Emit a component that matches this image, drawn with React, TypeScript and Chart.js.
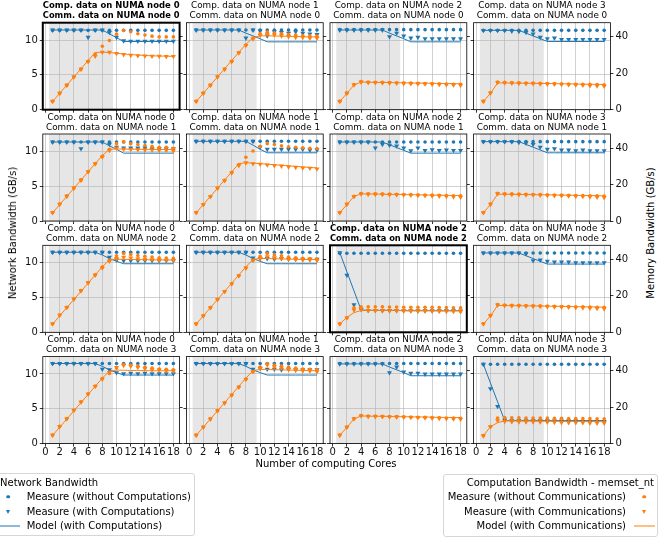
import React, { useEffect, useRef } from "react";
import { Chart, registerables } from "chart.js";
Chart.register(...registerables);

const FONT = "'DejaVu Sans', 'Liberation Sans', sans-serif";
const BLUE = "#1f77b4";
const ORANGE = "#ff7f0e";

// ---------- data ----------
const CORES = [1, 2, 3, 4, 5, 6, 7, 8, 9, 10, 11, 12, 13, 14, 15, 16, 17, 18];
const X_TICKS = [0, 2, 4, 6, 8, 10, 12, 14, 16, 18];
const NET_TICKS = [0, 5, 10];
const MEM_TICKS = [0, 20, 40];
const X_RANGE = [-0.375, 18.875];
const NET_RANGE = [0, 12.5];
const MEM_RANGE = [0, 47.8];
const SOCKET_SPAN = [0.5, 9.5];
const COMP_NODES = [0, 1, 2, 3];
const COMM_NODES = [0, 1, 2, 3];
const HIGHLIGHTED = ["0-0", "2-2"]; // comm-comp

// panel: comm node 0 / comp node 0
const net_no_r0c0 = [11.4, 11.4, 11.4, 11.4, 11.4, 11.4, 11.4, 11.4, 11.4, 11.4, 11.4, 11.4, 11.4, 11.4, 11.4, 11.4, 11.4, 11.4];
const net_with_r0c0 = [11.45, 11.45, 11.45, 11.45, 11.45, 10.4, 11.45, 11.45, 11.1, 10.4, 9.9, 9.85, 9.85, 9.85, 9.85, 9.85, 9.85, 9.85];
const net_model_r0c0 = [11.45, 11.45, 11.45, 11.45, 11.45, 11.45, 11.45, 11.45, 10.9, 10.35, 9.8, 9.8, 9.8, 9.8, 9.8, 9.8, 9.8, 9.8];
const mem_no_r0c0 = [4.7, 9.1, 13.5, 18.1, 22.4, 26.6, 30.6, 34.9, 38.0, 41.5, 43.5, 42.8, 41.7, 41.0, 40.4, 40.0, 40.0, 40.0];
const mem_with_r0c0 = [4.6, 9.0, 13.4, 18.0, 22.2, 26.4, 29.4, 31.6, 31.6, 30.9, 30.3, 29.9, 29.7, 29.6, 29.4, 29.4, 29.2, 29.3];
const mem_model_r0c0 = [4.5, 9.0, 13.5, 18.0, 22.5, 27.0, 31.4, 31.6, 31.4, 31.0, 30.6, 30.3, 30.0, 29.8, 29.6, 29.5, 29.4, 29.3];

// comm 0 / comp 1
const net_no_r0c1 = [11.45, 11.45, 11.45, 11.45, 11.45, 11.45, 11.45, 11.45, 11.45, 11.45, 11.45, 11.45, 11.45, 11.45, 11.45, 11.45, 11.45, 11.45];
const net_with_r0c1 = [11.45, 11.45, 11.45, 11.45, 11.45, 11.45, 11.45, 10.3, 11.45, 11.3, 10.6, 11.2, 11.1, 11.0, 11.2, 11.0, 10.9, 10.8];
const net_model_r0c1 = [11.45, 11.45, 11.45, 11.45, 11.45, 11.45, 11.45, 11.0, 10.6, 10.2, 9.75, 9.75, 9.75, 9.75, 9.75, 9.75, 9.75, 9.75];
const mem_no_r0c1 = [4.7, 9.1, 13.5, 18.1, 22.4, 26.6, 31.4, 35.5, 39.4, 41.8, 42.6, 42.3, 41.8, 41.4, 41.0, 40.8, 40.6, 40.4];
const mem_with_r0c1 = [4.6, 9.0, 13.4, 18.0, 22.2, 26.4, 31.2, 35.3, 38.9, 40.8, 41.5, 41.1, 40.6, 40.2, 39.8, 39.7, 39.3, 39.3];
const mem_model_r0c1 = [4.5, 9.0, 13.5, 18.0, 22.5, 27.0, 31.5, 36.0, 39.5, 40.6, 40.6, 40.5, 40.4, 40.3, 40.2, 40.1, 40.0, 40.0];

// comm 0 / comp 2
const net_no_r0c2 = [11.5, 11.5, 11.5, 11.5, 11.5, 11.5, 11.5, 11.5, 11.5, 11.5, 11.5, 11.5, 11.5, 11.5, 11.5, 11.5, 11.5, 11.5];
const net_with_r0c2 = [11.45, 11.45, 11.45, 11.45, 11.45, 11.45, 11.45, 10.5, 11.0, 10.6, 10.3, 10.4, 10.2, 10.2, 10.2, 10.2, 10.2, 10.2];
const net_model_r0c2 = [11.45, 11.45, 11.45, 11.45, 11.45, 11.45, 11.45, 11.0, 10.6, 10.2, 9.75, 9.75, 9.75, 9.75, 9.75, 9.75, 9.75, 9.75];
const mem_no_r0c2 = [4.7, 9.1, 13.8, 15.4, 15.2, 15.1, 15.0, 14.9, 14.8, 14.7, 14.6, 14.5, 14.4, 14.3, 14.2, 14.1, 14.0, 13.9];
const mem_with_r0c2 = [4.6, 9.0, 13.6, 15.2, 14.9, 14.9, 14.8, 14.7, 14.6, 14.5, 14.4, 14.3, 14.2, 14.0, 13.9, 13.8, 13.6, 13.4];
const mem_model_r0c2 = [4.5, 9.0, 13.5, 15.2, 15.1, 15.0, 15.0, 14.9, 14.8, 14.8, 14.7, 14.6, 14.6, 14.5, 14.4, 14.4, 14.3, 14.3];

// comm 0 / comp 3
const net_no_r0c3 = [11.4, 11.4, 11.4, 11.4, 11.4, 11.4, 11.4, 11.4, 11.4, 11.4, 11.4, 11.4, 11.4, 11.4, 11.4, 11.4, 11.4, 11.4];
const net_with_r0c3 = [11.4, 11.4, 11.4, 11.4, 11.3, 11.25, 11.1, 10.9, 10.4, 10.2, 10.3, 10.1, 10.1, 10.1, 10.1, 10.1, 10.1, 10.1];
const net_model_r0c3 = [11.4, 11.4, 11.4, 11.4, 11.4, 11.4, 11.0, 10.6, 10.2, 9.8, 9.8, 9.8, 9.8, 9.8, 9.8, 9.8, 9.8, 9.8];
const mem_no_r0c3 = [4.7, 9.3, 15.2, 15.0, 14.9, 14.8, 14.7, 14.6, 14.5, 14.4, 14.3, 14.2, 14.1, 14.0, 14.0, 13.9, 13.8, 13.7];
const mem_with_r0c3 = [4.6, 9.2, 15.0, 14.7, 14.6, 14.5, 14.4, 14.3, 14.2, 14.1, 14.0, 13.9, 13.8, 13.6, 13.5, 13.3, 13.1, 12.9];
const mem_model_r0c3 = [4.5, 9.0, 14.7, 14.7, 14.6, 14.6, 14.5, 14.5, 14.4, 14.4, 14.3, 14.2, 14.2, 14.1, 14.0, 14.0, 13.9, 13.8];

// comm 1 / comp 0
const net_no_r1c0 = [11.35, 11.35, 11.35, 11.35, 11.35, 11.35, 11.35, 11.35, 11.35, 11.35, 11.35, 11.35, 11.35, 11.35, 11.35, 11.35, 11.35, 11.35];
const net_with_r1c0 = [11.35, 11.35, 11.35, 11.35, 10.4, 11.35, 11.35, 11.35, 11.05, 10.6, 10.5, 10.5, 10.5, 10.5, 10.4, 10.4, 10.4, 10.4];
const net_model_r1c0 = [11.35, 11.35, 11.35, 11.35, 11.35, 11.35, 11.35, 11.35, 10.8, 10.3, 9.75, 9.75, 9.75, 9.75, 9.75, 9.75, 9.75, 9.75];
const mem_no_r1c0 = [4.7, 9.3, 13.8, 18.2, 22.6, 27.2, 31.6, 35.6, 39.4, 42.5, 43.5, 42.5, 42.0, 41.5, 41.0, 40.5, 40.5, 40.0];
const mem_with_r1c0 = [4.6, 9.2, 13.6, 18.0, 22.4, 27.0, 31.4, 35.2, 38.8, 40.0, 39.5, 39.3, 39.2, 39.0, 39.0, 38.8, 38.8, 38.5];
const mem_model_r1c0 = [4.5, 9.0, 13.5, 18.0, 22.5, 27.0, 31.5, 36.0, 39.4, 39.6, 39.5, 39.5, 39.4, 39.4, 39.3, 39.3, 39.3, 39.3];

// comm 1 / comp 1
const net_no_r1c1 = [11.45, 11.45, 11.45, 11.45, 11.45, 11.45, 11.45, 11.45, 11.45, 11.45, 11.45, 11.45, 11.45, 11.45, 11.45, 11.45, 11.45, 11.45];
const net_with_r1c1 = [11.45, 11.45, 11.45, 11.45, 11.45, 11.45, 11.45, 11.45, 11.45, 10.6, 10.3, 10.3, 10.3, 10.3, 10.3, 10.3, 10.2, 10.2];
const net_model_r1c1 = [11.45, 11.45, 11.45, 11.45, 11.45, 11.45, 11.45, 11.45, 10.9, 10.3, 9.8, 9.8, 9.8, 9.8, 9.8, 9.8, 9.8, 9.8];
const mem_no_r1c1 = [4.7, 9.1, 13.5, 18.1, 22.4, 26.6, 31.0, 35.0, 38.5, 41.0, 42.5, 42.0, 41.3, 40.8, 40.5, 40.2, 40.0, 39.8];
const mem_with_r1c1 = [4.6, 9.0, 13.4, 18.0, 22.2, 26.4, 30.5, 32.0, 31.5, 31.2, 30.8, 30.5, 30.2, 29.8, 29.5, 29.2, 29.0, 28.6];
const mem_model_r1c1 = [4.5, 9.0, 13.5, 18.0, 22.5, 27.0, 31.5, 32.0, 31.8, 31.5, 31.2, 30.9, 30.6, 30.3, 30.0, 29.7, 29.4, 29.2];

// comm 1 / comp 2
const net_no_r1c2 = [11.35, 11.35, 11.35, 11.35, 11.35, 11.35, 11.35, 11.35, 11.35, 11.35, 11.35, 11.35, 11.35, 11.35, 11.35, 11.35, 11.35, 11.35];
const net_with_r1c2 = [11.35, 11.35, 11.35, 11.35, 11.35, 10.5, 11.0, 10.9, 10.8, 10.5, 10.1, 10.5, 10.15, 10.25, 10.15, 10.2, 10.15, 10.15];
const net_model_r1c2 = [11.35, 11.35, 11.35, 11.35, 11.35, 11.35, 11.35, 10.95, 10.55, 10.15, 9.75, 9.75, 9.75, 9.75, 9.75, 9.75, 9.75, 9.75];
const mem_no_r1c2 = [4.7, 9.3, 13.6, 15.1, 15.0, 14.9, 14.9, 14.8, 14.7, 14.6, 14.5, 14.4, 14.3, 14.2, 14.1, 14.0, 13.9, 13.8];
const mem_with_r1c2 = [4.6, 9.2, 13.4, 14.9, 14.7, 14.7, 14.6, 14.5, 14.4, 14.3, 14.2, 14.1, 14.0, 13.8, 13.7, 13.5, 13.3, 13.1];
const mem_model_r1c2 = [4.5, 9.0, 13.5, 14.9, 14.8, 14.8, 14.7, 14.6, 14.6, 14.5, 14.4, 14.4, 14.3, 14.2, 14.2, 14.1, 14.0, 14.0];

// comm 1 / comp 3
const net_no_r1c3 = [11.4, 11.4, 11.4, 11.4, 11.4, 11.4, 11.4, 11.4, 11.4, 11.4, 11.4, 11.4, 11.4, 11.4, 11.4, 11.4, 11.4, 11.4];
const net_with_r1c3 = [11.4, 11.4, 11.4, 11.4, 11.4, 11.3, 11.2, 11.0, 10.6, 10.3, 10.4, 10.2, 10.2, 10.1, 10.2, 10.1, 10.1, 10.1];
const net_model_r1c3 = [11.4, 11.4, 11.4, 11.4, 11.4, 11.4, 11.0, 10.6, 10.2, 9.8, 9.8, 9.8, 9.8, 9.8, 9.8, 9.8, 9.8, 9.8];
const mem_no_r1c3 = [4.7, 9.3, 15.2, 15.0, 14.9, 14.8, 14.7, 14.6, 14.5, 14.4, 14.3, 14.2, 14.1, 14.0, 14.0, 13.9, 13.8, 13.7];
const mem_with_r1c3 = [4.6, 9.2, 15.0, 14.7, 14.6, 14.5, 14.4, 14.3, 14.2, 14.1, 14.0, 13.9, 13.8, 13.6, 13.5, 13.3, 13.1, 12.9];
const mem_model_r1c3 = [4.5, 9.0, 14.7, 14.7, 14.6, 14.6, 14.5, 14.5, 14.4, 14.4, 14.3, 14.2, 14.2, 14.1, 14.0, 14.0, 13.9, 13.8];

// comm 2 / comp 0
const net_no_r2c0 = [11.5, 11.5, 11.5, 11.5, 11.5, 11.5, 11.5, 11.5, 11.5, 11.5, 11.5, 11.5, 11.5, 11.5, 11.5, 11.5, 11.5, 11.5];
const net_with_r2c0 = [11.5, 11.5, 11.5, 11.5, 11.5, 11.5, 11.5, 11.5, 10.8, 10.4, 10.3, 10.3, 10.3, 10.3, 10.3, 10.3, 10.3, 10.3];
const net_model_r2c0 = [11.5, 11.5, 11.5, 11.5, 11.5, 11.5, 11.5, 11.1, 10.6, 10.2, 9.85, 9.85, 9.85, 9.85, 9.85, 9.85, 9.85, 9.85];
const mem_no_r2c0 = [4.7, 9.5, 13.8, 18.4, 23.0, 27.4, 31.6, 35.8, 39.5, 42.0, 43.3, 42.8, 42.2, 41.8, 41.4, 41.0, 40.8, 40.6];
const mem_with_r2c0 = [4.6, 9.4, 13.6, 18.2, 22.8, 27.2, 31.4, 35.4, 39.1, 40.6, 41.2, 40.8, 40.4, 40.1, 39.9, 39.7, 39.6, 39.5];
const mem_model_r2c0 = [4.5, 9.0, 13.5, 18.0, 22.5, 27.0, 31.5, 36.0, 39.8, 40.2, 40.1, 40.0, 39.9, 39.9, 39.8, 39.8, 39.7, 39.7];

// comm 2 / comp 1
const net_no_r2c1 = [11.5, 11.5, 11.5, 11.5, 11.5, 11.5, 11.5, 11.5, 11.5, 11.5, 11.5, 11.5, 11.5, 11.5, 11.5, 11.5, 11.5, 11.5];
const net_with_r2c1 = [11.5, 11.5, 11.5, 11.5, 11.5, 11.5, 11.5, 11.5, 10.7, 10.6, 10.6, 10.5, 10.6, 10.5, 10.5, 10.5, 10.5, 10.5];
const net_model_r2c1 = [11.5, 11.5, 11.5, 11.5, 11.5, 11.5, 11.5, 11.1, 10.6, 10.2, 9.85, 9.85, 9.85, 9.85, 9.85, 9.85, 9.85, 9.85];
const mem_no_r2c1 = [4.7, 9.1, 13.6, 18.1, 22.4, 26.7, 31.1, 35.5, 39.6, 41.8, 43.3, 42.6, 42.0, 41.4, 41.0, 40.6, 40.5, 40.2];
const mem_with_r2c1 = [4.6, 9.0, 13.5, 18.0, 22.3, 26.6, 31.0, 35.3, 39.5, 40.6, 41.6, 41.0, 40.6, 40.2, 40.0, 39.8, 39.7, 39.5];
const mem_model_r2c1 = [4.5, 9.0, 13.5, 18.0, 22.5, 27.0, 31.5, 36.0, 40.0, 40.6, 40.5, 40.4, 40.3, 40.2, 40.1, 40.0, 40.0, 39.9];

// comm 2 / comp 2
const net_no_r2c2 = [11.35, 11.35, 11.35, 11.35, 11.35, 11.35, 11.35, 11.35, 11.35, 11.35, 11.35, 11.35, 11.35, 11.35, 11.35, 11.35, 11.35, 11.35];
const net_with_r2c2 = [11.45, 8.2, 3.95, 3.3, 3.15, 3.15, 3.1, 3.1, 3.1, 3.1, 3.1, 3.1, 3.1, 3.1, 3.1, 3.1, 3.1, 3.05];
const net_model_r2c2 = [11.45, 8.7, 5.95, 3.2, 3.15, 3.15, 3.15, 3.15, 3.15, 3.1, 3.1, 3.1, 3.1, 3.1, 3.1, 3.1, 3.1, 3.1];
const mem_no_r2c2 = [4.7, 8.0, 13.5, 14.0, 14.0, 14.0, 14.0, 13.9, 13.9, 13.8, 13.8, 13.8, 13.7, 13.7, 13.6, 13.6, 13.5, 13.5];
const mem_with_r2c2 = [4.6, 7.9, 12.3, 12.8, 12.0, 12.0, 11.9, 11.9, 11.9, 11.8, 11.8, 11.7, 11.7, 11.6, 11.6, 11.5, 11.5, 11.4];
const mem_model_r2c2 = [4.6, 8.2, 10.8, 12.0, 12.0, 12.0, 12.0, 12.0, 12.0, 11.9, 11.9, 11.9, 11.9, 11.9, 11.8, 11.8, 11.8, 11.8];
const mem_err_r2c2 = [0.3, 0.4, 1.2, 0.9, 0.9, 0.9, 0.9, 0.9, 0.9, 0.9, 0.9, 0.9, 0.9, 0.9, 0.9, 0.9, 0.9, 0.9];

// comm 2 / comp 3
const net_no_r2c3 = [11.4, 11.4, 11.4, 11.4, 11.4, 11.4, 11.4, 11.4, 11.4, 11.4, 11.4, 11.4, 11.4, 11.4, 11.4, 11.4, 11.4, 11.4];
const net_with_r2c3 = [11.4, 11.4, 11.4, 11.4, 11.4, 11.4, 11.3, 10.3, 10.4, 10.2, 10.1, 10.1, 10.1, 10.0, 10.0, 10.0, 10.0, 10.0];
const net_model_r2c3 = [11.4, 11.4, 11.4, 11.4, 11.4, 11.4, 11.0, 10.6, 10.2, 9.8, 9.8, 9.8, 9.8, 9.8, 9.8, 9.8, 9.8, 9.8];
const mem_no_r2c3 = [4.7, 9.3, 15.2, 15.0, 14.9, 14.8, 14.7, 14.6, 14.5, 14.4, 14.3, 14.2, 14.1, 14.0, 14.0, 13.9, 13.8, 13.7];
const mem_with_r2c3 = [4.6, 9.2, 15.0, 14.7, 14.6, 14.5, 14.4, 14.3, 14.2, 14.1, 14.0, 13.9, 13.8, 13.6, 13.5, 13.3, 13.1, 12.9];
const mem_model_r2c3 = [4.5, 9.0, 14.7, 14.7, 14.6, 14.6, 14.5, 14.5, 14.4, 14.4, 14.3, 14.2, 14.2, 14.1, 14.0, 14.0, 13.9, 13.8];

// comm 3 / comp 0
const net_no_r3c0 = [11.5, 11.5, 11.5, 11.5, 11.5, 11.5, 11.5, 11.5, 11.5, 11.5, 11.5, 11.5, 11.5, 11.5, 11.5, 11.5, 11.5, 11.5];
const net_with_r3c0 = [11.5, 11.5, 11.5, 11.5, 11.5, 11.5, 11.5, 10.7, 10.6, 10.2, 10.05, 10.1, 10.05, 10.1, 10.05, 10.05, 10.05, 10.05];
const net_model_r3c0 = [11.5, 11.5, 11.5, 11.5, 11.5, 11.5, 11.5, 11.1, 10.6, 10.2, 9.85, 9.85, 9.85, 9.85, 9.85, 9.85, 9.85, 9.85];
const mem_no_r3c0 = [4.7, 9.5, 13.8, 18.4, 23.0, 27.4, 31.6, 35.8, 38.5, 41.5, 43.5, 43.2, 42.6, 42.0, 41.5, 41.0, 40.8, 40.5];
const mem_with_r3c0 = [4.6, 9.4, 13.6, 18.2, 22.8, 27.2, 31.4, 35.4, 39.1, 41.9, 43.0, 42.6, 41.9, 41.2, 40.6, 40.4, 40.0, 39.9];
const mem_model_r3c0 = [4.5, 9.0, 13.5, 18.0, 22.5, 27.0, 31.5, 36.0, 39.8, 40.4, 40.3, 40.2, 40.1, 40.1, 40.0, 40.0, 40.0, 40.0];

// comm 3 / comp 1
const net_no_r3c1 = [11.5, 11.5, 11.5, 11.5, 11.5, 11.5, 11.5, 11.5, 11.5, 11.5, 11.5, 11.5, 11.5, 11.5, 11.5, 11.5, 11.5, 11.5];
const net_with_r3c1 = [11.5, 11.5, 11.5, 11.5, 11.5, 11.5, 11.5, 11.5, 10.7, 10.8, 10.7, 10.7, 10.6, 10.7, 10.6, 10.6, 10.6, 10.6];
const net_model_r3c1 = [11.5, 11.5, 11.5, 11.5, 11.5, 11.5, 11.5, 11.1, 10.6, 10.2, 9.85, 9.85, 9.85, 9.85, 9.85, 9.85, 9.85, 9.85];
const mem_no_r3c1 = [4.7, 9.1, 13.6, 18.1, 22.4, 26.7, 31.1, 35.5, 39.6, 42.0, 43.8, 43.2, 42.6, 42.0, 41.5, 41.0, 40.8, 40.5];
const mem_with_r3c1 = [4.6, 9.0, 13.5, 18.0, 22.3, 26.6, 31.0, 35.3, 39.5, 41.5, 43.2, 42.2, 41.7, 40.8, 40.4, 40.0, 40.0, 39.5];
const mem_model_r3c1 = [4.5, 9.0, 13.5, 18.0, 22.5, 27.0, 31.5, 36.0, 40.0, 40.8, 40.7, 40.6, 40.5, 40.4, 40.3, 40.2, 40.1, 40.0];

// comm 3 / comp 2
const net_no_r3c2 = [11.5, 11.5, 11.5, 11.5, 11.5, 11.5, 11.5, 11.5, 11.5, 11.5, 11.5, 11.5, 11.5, 11.5, 11.5, 11.5, 11.5, 11.5];
const net_with_r3c2 = [11.45, 11.45, 11.45, 11.45, 11.45, 11.45, 11.45, 10.2, 11.0, 10.3, 10.1, 10.1, 10.0, 10.0, 10.0, 10.0, 10.0, 10.0];
const net_model_r3c2 = [11.45, 11.45, 11.45, 11.45, 11.45, 11.45, 11.45, 11.0, 10.6, 10.2, 9.75, 9.75, 9.75, 9.75, 9.75, 9.75, 9.75, 9.75];
const mem_no_r3c2 = [4.7, 9.1, 13.8, 15.4, 15.2, 15.1, 15.0, 14.9, 14.8, 14.7, 14.6, 14.5, 14.4, 14.3, 14.2, 14.1, 14.0, 13.9];
const mem_with_r3c2 = [4.6, 9.0, 13.6, 15.2, 14.9, 14.9, 14.8, 14.7, 14.6, 14.5, 14.4, 14.3, 14.2, 14.0, 13.9, 13.8, 13.6, 13.4];
const mem_model_r3c2 = [4.5, 9.0, 13.5, 15.2, 15.1, 15.0, 15.0, 14.9, 14.8, 14.8, 14.7, 14.6, 14.6, 14.5, 14.4, 14.4, 14.3, 14.3];

// comm 3 / comp 3
const net_no_r3c3 = [11.4, 11.4, 11.4, 11.4, 11.4, 11.4, 11.4, 11.4, 11.4, 11.4, 11.4, 11.4, 11.4, 11.4, 11.4, 11.4, 11.4, 11.4];
const net_with_r3c3 = [11.4, 7.9, 5.35, 3.4, 3.3, 3.3, 3.3, 3.3, 3.3, 3.3, 3.25, 3.25, 3.25, 3.25, 3.2, 3.2, 3.2, 3.2];
const net_model_r3c3 = [11.4, 8.7, 6.0, 3.3, 3.3, 3.3, 3.3, 3.3, 3.3, 3.3, 3.3, 3.3, 3.3, 3.3, 3.3, 3.3, 3.3, 3.3];
const mem_no_r3c3 = [4.4, 9.4, 14.0, 14.3, 14.2, 14.2, 14.1, 14.1, 14.0, 14.0, 13.9, 13.9, 13.8, 13.8, 13.7, 13.7, 13.6, 13.6];
const mem_with_r3c3 = [4.3, 9.3, 12.6, 12.2, 12.1, 12.0, 12.0, 11.9, 11.9, 11.8, 11.7, 11.6, 11.6, 11.5, 11.5, 11.4, 11.3, 11.3];
const mem_model_r3c3 = [4.3, 9.3, 11.5, 12.5, 12.5, 12.4, 12.4, 12.4, 12.3, 12.3, 12.3, 12.2, 12.2, 12.2, 12.1, 12.1, 12.1, 12.0];
const mem_err_r3c3 = [0.3, 0.4, 1.2, 0.9, 0.9, 0.9, 0.9, 0.9, 0.9, 0.9, 0.9, 0.9, 0.9, 0.9, 0.9, 0.9, 0.9, 0.9];

type PanelData = {
  row: number; col: number;
  netNo: number[]; netWith: number[]; netModel: number[];
  memNo: number[]; memWith: number[]; memModel: number[];
  memErr?: number[];
};

const PANELS: PanelData[] = [
  { row: 0, col: 0, netNo: net_no_r0c0, netWith: net_with_r0c0, netModel: net_model_r0c0, memNo: mem_no_r0c0, memWith: mem_with_r0c0, memModel: mem_model_r0c0 },
  { row: 0, col: 1, netNo: net_no_r0c1, netWith: net_with_r0c1, netModel: net_model_r0c1, memNo: mem_no_r0c1, memWith: mem_with_r0c1, memModel: mem_model_r0c1 },
  { row: 0, col: 2, netNo: net_no_r0c2, netWith: net_with_r0c2, netModel: net_model_r0c2, memNo: mem_no_r0c2, memWith: mem_with_r0c2, memModel: mem_model_r0c2 },
  { row: 0, col: 3, netNo: net_no_r0c3, netWith: net_with_r0c3, netModel: net_model_r0c3, memNo: mem_no_r0c3, memWith: mem_with_r0c3, memModel: mem_model_r0c3 },
  { row: 1, col: 0, netNo: net_no_r1c0, netWith: net_with_r1c0, netModel: net_model_r1c0, memNo: mem_no_r1c0, memWith: mem_with_r1c0, memModel: mem_model_r1c0 },
  { row: 1, col: 1, netNo: net_no_r1c1, netWith: net_with_r1c1, netModel: net_model_r1c1, memNo: mem_no_r1c1, memWith: mem_with_r1c1, memModel: mem_model_r1c1 },
  { row: 1, col: 2, netNo: net_no_r1c2, netWith: net_with_r1c2, netModel: net_model_r1c2, memNo: mem_no_r1c2, memWith: mem_with_r1c2, memModel: mem_model_r1c2 },
  { row: 1, col: 3, netNo: net_no_r1c3, netWith: net_with_r1c3, netModel: net_model_r1c3, memNo: mem_no_r1c3, memWith: mem_with_r1c3, memModel: mem_model_r1c3 },
  { row: 2, col: 0, netNo: net_no_r2c0, netWith: net_with_r2c0, netModel: net_model_r2c0, memNo: mem_no_r2c0, memWith: mem_with_r2c0, memModel: mem_model_r2c0 },
  { row: 2, col: 1, netNo: net_no_r2c1, netWith: net_with_r2c1, netModel: net_model_r2c1, memNo: mem_no_r2c1, memWith: mem_with_r2c1, memModel: mem_model_r2c1 },
  { row: 2, col: 2, netNo: net_no_r2c2, netWith: net_with_r2c2, netModel: net_model_r2c2, memNo: mem_no_r2c2, memWith: mem_with_r2c2, memModel: mem_model_r2c2, memErr: mem_err_r2c2 },
  { row: 2, col: 3, netNo: net_no_r2c3, netWith: net_with_r2c3, netModel: net_model_r2c3, memNo: mem_no_r2c3, memWith: mem_with_r2c3, memModel: mem_model_r2c3 },
  { row: 3, col: 0, netNo: net_no_r3c0, netWith: net_with_r3c0, netModel: net_model_r3c0, memNo: mem_no_r3c0, memWith: mem_with_r3c0, memModel: mem_model_r3c0 },
  { row: 3, col: 1, netNo: net_no_r3c1, netWith: net_with_r3c1, netModel: net_model_r3c1, memNo: mem_no_r3c1, memWith: mem_with_r3c1, memModel: mem_model_r3c1 },
  { row: 3, col: 2, netNo: net_no_r3c2, netWith: net_with_r3c2, netModel: net_model_r3c2, memNo: mem_no_r3c2, memWith: mem_with_r3c2, memModel: mem_model_r3c2 },
  { row: 3, col: 3, netNo: net_no_r3c3, netWith: net_with_r3c3, netModel: net_model_r3c3, memNo: mem_no_r3c3, memWith: mem_with_r3c3, memModel: mem_model_r3c3, memErr: mem_err_r3c3 },
];

// ---------- layout (not data) ----------
const PLOT_LEFT0 = 42.8;
const PLOT_DX = 143.6;
const PLOT_W = 136.8;
const PLOT_TOP0 = 22.7;
const PLOT_DY = 111.3;
const PLOT_H = 87;
const TITLE_SIZE = 8.8;
const TITLE_LH = 10;
const TITLE_PAD_B = 1.7;

const pts = (vals: number[]) => CORES.map((x, i) => ({ x, y: vals[i] }));

const shadePlugin = {
  id: "socketShade",
  beforeDraw(chart: any) {
    const { ctx, chartArea, scales } = chart;
    const a = scales.x.getPixelForValue(SOCKET_SPAN[0]);
    const b = scales.x.getPixelForValue(SOCKET_SPAN[1]);
    ctx.save();
    ctx.fillStyle = "#e6e6e6";
    ctx.fillRect(a, chartArea.top, b - a, chartArea.bottom - chartArea.top);
    ctx.restore();
  },
};

const framePlugin = {
  id: "frame",
  afterDraw(chart: any, _args: any, opts: any) {
    const { ctx, chartArea } = chart;
    ctx.save();
    ctx.strokeStyle = "#000";
    ctx.lineWidth = opts.width || 0.8;
    ctx.strokeRect(chartArea.left, chartArea.top, chartArea.right - chartArea.left, chartArea.bottom - chartArea.top);
    ctx.restore();
  },
};

function Panel({ p }: { p: PanelData }) {
  const ref = useRef<HTMLCanvasElement>(null);
  const plotL = PLOT_LEFT0 + p.col * PLOT_DX;
  const plotT = PLOT_TOP0 + p.row * PLOT_DY;
  const cx = Math.floor(plotL) - 40;
  const cy = Math.floor(plotT) - 30;
  const cw = 40 + Math.ceil(PLOT_W) + 32;
  const ch = 30 + Math.ceil(PLOT_H) + 22;
  const leftW = plotL - cx;
  const rightW = cw - leftW - PLOT_W;
  const titleH = 2 * TITLE_LH + TITLE_PAD_B;
  const padTop = plotT - cy - titleH;
  const xAxisH = ch - (plotT - cy) - PLOT_H;
  const hl = HIGHLIGHTED.includes(`${p.row}-${p.col}`);

  useEffect(() => {
    const tickFont = { family: FONT, size: 10 };
    const gridColor = "rgba(176,176,176,0.75)";
    const datasets: any[] = [
      { label: "mem with", data: pts(p.memWith), yAxisID: "y2", showLine: false, pointStyle: "triangle", rotation: 180, pointRadius: 2.9, backgroundColor: ORANGE, borderColor: ORANGE, pointBorderWidth: 0 },
      { label: "mem no", data: pts(p.memNo), yAxisID: "y2", showLine: false, pointStyle: "circle", pointRadius: 1.8, backgroundColor: ORANGE, borderColor: ORANGE, pointBorderWidth: 0 },
      { label: "mem model", data: pts(p.memModel), yAxisID: "y2", showLine: true, pointRadius: 0, borderColor: ORANGE, borderWidth: 1, fill: false },
    ];
    if (p.memErr) {
      const err: any[] = [];
      CORES.forEach((x, i) => {
        const lo = Math.min(p.memWith[i], p.memNo[i]) - p.memErr![i];
        const hi = Math.max(p.memWith[i], p.memNo[i]) + p.memErr![i] * 0.5;
        err.push({ x, y: lo }, { x, y: hi }, { x, y: null });
      });
      datasets.push({ label: "mem err", data: err, yAxisID: "y2", showLine: true, spanGaps: false, pointRadius: 0, borderColor: ORANGE, borderWidth: 1 });
    }
    datasets.push(
      { label: "net with", data: pts(p.netWith), yAxisID: "y", showLine: false, pointStyle: "triangle", rotation: 180, pointRadius: 2.9, backgroundColor: BLUE, borderColor: BLUE, pointBorderWidth: 0 },
      { label: "net no", data: pts(p.netNo), yAxisID: "y", showLine: false, pointStyle: "circle", pointRadius: 1.8, backgroundColor: BLUE, borderColor: BLUE, pointBorderWidth: 0 },
      { label: "net model", data: pts(p.netModel), yAxisID: "y", showLine: true, pointRadius: 0, borderColor: BLUE, borderWidth: 1, fill: false },
    );

    const chart = new Chart(ref.current!, {
      type: "scatter",
      data: { datasets },
      plugins: [shadePlugin, framePlugin],
      options: {
        animation: false,
        responsive: false,
        devicePixelRatio: 1,
        events: [],
        layout: { padding: { top: padTop, left: 0, right: 0, bottom: 0 } },
        plugins: {
          legend: { display: false },
          tooltip: { enabled: false },
          title: {
            display: true,
            fullSize: false,
            text: [`Comp. data on NUMA node ${COMP_NODES[p.col]}`, `Comm. data on NUMA node ${COMM_NODES[p.row]}`],
            font: { family: FONT, size: TITLE_SIZE, weight: hl ? "bold" : "normal", lineHeight: TITLE_LH / TITLE_SIZE },
            color: "#000",
            padding: { top: 0, bottom: TITLE_PAD_B },
          },
          frame: { width: hl ? 2 : 0.8 },
        } as any,
        scales: {
          x: {
            type: "linear",
            position: "bottom",
            min: X_RANGE[0],
            max: X_RANGE[1],
            afterBuildTicks: (s: any) => { s.ticks = X_TICKS.map((v) => ({ value: v })); },
            afterFit: (s: any) => { s.height = xAxisH; },
            ticks: { display: p.row === 3, font: tickFont, color: "#111", padding: 0, maxRotation: 0, autoSkip: false },
            grid: { color: gridColor, lineWidth: 0.8, tickLength: 3, tickColor: "#000", tickWidth: 0.8 },
            border: { display: false },
          },
          y: {
            type: "linear",
            position: "left",
            min: NET_RANGE[0],
            max: NET_RANGE[1],
            afterBuildTicks: (s: any) => { s.ticks = NET_TICKS.map((v) => ({ value: v })); },
            afterFit: (s: any) => { s.width = leftW; },
            ticks: { display: p.col === 0, font: tickFont, color: "#111", padding: 2 },
            grid: { color: gridColor, lineWidth: 0.8, tickLength: 3, tickColor: "#000", tickWidth: 0.8 },
            border: { display: false },
          },
          y2: {
            type: "linear",
            position: "right",
            min: MEM_RANGE[0],
            max: MEM_RANGE[1],
            afterBuildTicks: (s: any) => { s.ticks = MEM_TICKS.map((v) => ({ value: v })); },
            afterFit: (s: any) => { s.width = rightW; },
            ticks: { display: p.col === 3, font: tickFont, color: "#111", padding: 2 },
            grid: { drawOnChartArea: false, tickLength: 3, tickColor: "#000", tickWidth: 0.8 },
            border: { display: false },
          },
        },
      } as any,
    });
    return () => chart.destroy();
  }, []);

  return (
    <canvas
      ref={ref}
      width={cw}
      height={ch}
      style={{ position: "absolute", left: cx, top: cy, width: cw, height: ch }}
    />
  );
}

const txt: React.CSSProperties = { position: "absolute", fontFamily: FONT, fontSize: 10, color: "#000", whiteSpace: "nowrap", lineHeight: "12px" };

function Dot({ color }: { color: string }) {
  return <span style={{ display: "inline-block", width: 3.6, height: 3.6, borderRadius: "50%", background: color }} />;
}
function Tri({ color }: { color: string }) {
  return <span style={{ display: "inline-block", width: 0, height: 0, borderLeft: "2.8px solid transparent", borderRight: "2.8px solid transparent", borderTop: `4.6px solid ${color}` }} />;
}
function Ln({ color }: { color: string }) {
  return <span style={{ display: "inline-block", width: 21, height: 0, borderTop: `1.2px solid ${color}` }} />;
}

const NET_LEGEND = ["Measure (without Computations)", "Measure (with Computations)", "Model (with Computations)"];
const MEM_LEGEND = ["Measure (without Communications)", "Measure (with Communications)", "Model (with Communications)"];
const LEGEND_ROWS_Y = [496.8, 511.6, 526.2];

export default function App() {
  const markers = (c: string) => [<Dot color={c} />, <Tri color={c} />, <Ln color={c} />];
  const netMarks = markers(BLUE);
  const memMarks = markers(ORANGE);
  return (
    <div style={{ position: "absolute", left: 0, top: 0, width: 665, height: 538, background: "#fff", overflow: "hidden" }}>
      {PANELS.map((p) => (
        <Panel key={`${p.row}-${p.col}`} p={p} />
      ))}
      <div style={{ ...txt, left: 13, top: 233, transform: "translate(-50%,-50%) rotate(-90deg)" }}>Network Bandwidth (GB/s)</div>
      <div style={{ ...txt, left: 651, top: 233, transform: "translate(-50%,-50%) rotate(-90deg)" }}>Memory Bandwidth (GB/s)</div>
      <div style={{ ...txt, left: 326, top: 464, transform: "translate(-50%,-50%)" }}>Number of computing Cores</div>

      <div style={{ position: "absolute", left: -4, top: 473.3, width: 199, height: 63, border: "1px solid #d6d6d6", borderRadius: 3, boxSizing: "border-box" }} />
      <div style={{ ...txt, left: 0, top: 482.7, transform: "translateY(-50%)" }}>Network Bandwidth</div>
      {NET_LEGEND.map((t, i) => (
        <React.Fragment key={t}>
          <div style={{ position: "absolute", left: i === 2 ? -1.5 : 8.2, top: LEGEND_ROWS_Y[i], transform: i === 2 ? "translateY(-50%)" : "translate(-50%,-50%)", display: "flex" }}>{netMarks[i]}</div>
          <div style={{ ...txt, left: 26.7, top: LEGEND_ROWS_Y[i], transform: "translateY(-50%)" }}>{t}</div>
        </React.Fragment>
      ))}

      <div style={{ position: "absolute", left: 443.3, top: 474, width: 215, height: 62.7, border: "1px solid #d6d6d6", borderRadius: 3, boxSizing: "border-box" }} />
      <div style={{ ...txt, right: 665 - 654, top: 482.7, transform: "translateY(-50%)" }}>Computation Bandwidth - memset_nt</div>
      {MEM_LEGEND.map((t, i) => (
        <React.Fragment key={t}>
          <div style={{ position: "absolute", left: i === 2 ? 633.5 : 644.3, top: LEGEND_ROWS_Y[i], transform: i === 2 ? "translateY(-50%)" : "translate(-50%,-50%)", display: "flex" }}>{memMarks[i]}</div>
          <div style={{ ...txt, right: 665 - 626, top: LEGEND_ROWS_Y[i], transform: "translateY(-50%)" }}>{t}</div>
        </React.Fragment>
      ))}
    </div>
  );
}
